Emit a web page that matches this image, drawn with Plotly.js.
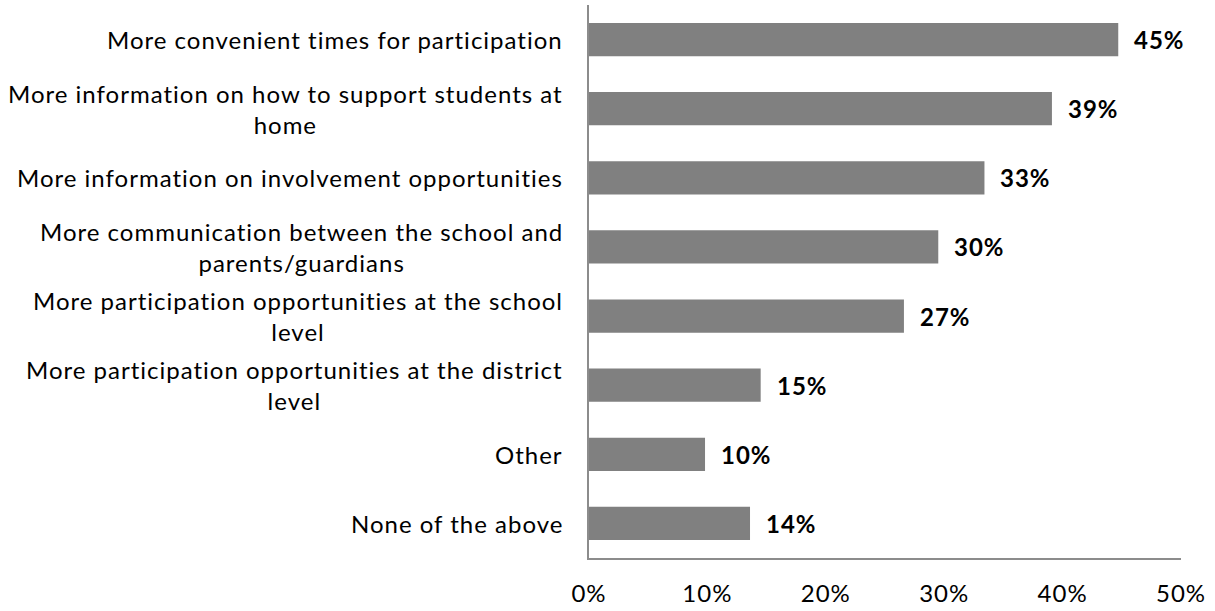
<!DOCTYPE html>
<html>
<head>
<meta charset="utf-8">
<script src="https://cdn.plot.ly/plotly-3.0.1.min.js"></script>
<style>
html,body{margin:0;padding:0;background:#fff;}
#chart{width:1215px;height:611px;}
svg text{letter-spacing:1px;}
</style>
</head>
<body>
<div id="chart"></div>
<script>
const categories = [
  "More convenient times for participation",
  "More information on how to support students at<br>home",
  "More information on involvement opportunities",
  "More communication between the school and<br>parents/guardians",
  "More participation opportunities at the school<br>level",
  "More participation opportunities at the district<br>level",
  "Other",
  "None of the above"
];
const values = [44.7, 39.1, 33.4, 29.5, 26.6, 14.5, 9.8, 13.6];
const valueLabels = ["45%", "39%", "33%", "30%", "27%", "15%", "10%", "14%"];
const xTickVals = [0, 10, 20, 30, 40, 50];
const xTickText = ["0%", "10%", "20%", "30%", "40%", "50%"];

const FONT = "Lato, 'Open Sans', sans-serif";
const FS = 24;

const trace = {
  type: "bar",
  orientation: "h",
  x: values,
  y: categories,
  marker: { color: "#808080" },
  hoverinfo: "none"
};

const annotations = [];
categories.forEach((c, i) => {
  annotations.push({
    xref: "paper", yref: "y", x: 0, y: c,
    xanchor: "right", yanchor: "middle", xshift: -24,
    text: c, showarrow: false, align: "center",
    font: { family: FONT, size: FS, color: "#000" }
  });
  annotations.push({
    xref: "x", yref: "y", x: values[i], y: c,
    xanchor: "left", yanchor: "middle", xshift: 14,
    text: "<b>" + valueLabels[i] + "</b>", showarrow: false,
    font: { family: FONT, size: FS, color: "#000" }
  });
});

const layout = {
  width: 1215, height: 611,
  margin: { l: 589, r: 34, t: 5, b: 53 },
  paper_bgcolor: "#fff", plot_bgcolor: "#fff",
  showlegend: false,
  bargap: 0.52,
  font: { family: FONT, size: FS, color: "#000" },
  xaxis: {
    range: [0, 50],
    tickvals: xTickVals, ticktext: xTickText,
    showgrid: false, zeroline: false,
    showline: true, linecolor: "#8c8c8c", linewidth: 2,
    ticks: "", ticklabelstandoff: 13,
    tickfont: { family: FONT, size: FS, color: "#000" },
    fixedrange: true
  },
  yaxis: {
    type: "category",
    autorange: "reversed",
    showticklabels: false,
    showgrid: false, zeroline: false,
    showline: true, linecolor: "#8c8c8c", linewidth: 2,
    ticks: "",
    fixedrange: true
  },
  annotations: annotations
};

Plotly.newPlot("chart", [trace], layout, { displayModeBar: false, staticPlot: true });
</script>
</body>
</html>
